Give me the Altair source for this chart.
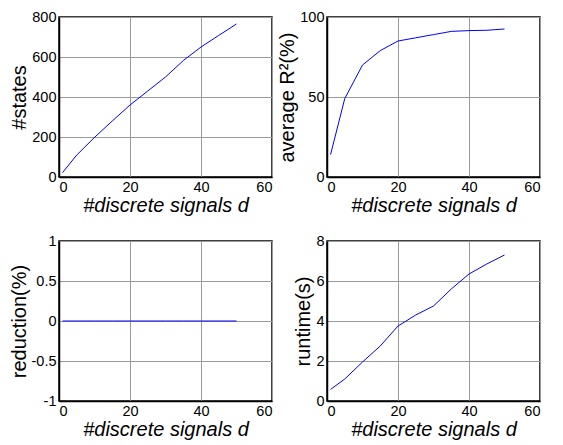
import altair as alt
import pandas as pd

d_vals = [1, 5, 10, 15, 20, 25, 30, 35, 40, 45, 50]
states = [22, 110, 198, 280, 360, 430, 500, 582, 650, 708, 765]
r2 = [14, 49, 70, 79, 85, 87, 89, 91, 91.5, 91.7, 92.5]
reduction = [0, 0, 0, 0, 0, 0, 0, 0, 0, 0, 0]
runtime = [0.58, 1.1, 1.95, 2.75, 3.75, 4.3, 4.75, 5.6, 6.35, 6.85, 7.3]

x_ticks = [0, 20, 40, 60]
FONT = "Liberation Sans"
W, H = 213, 160


def panel(values, ytitle, ydomain, yticks):
    df = pd.DataFrame({"d": d_vals, "v": values})
    return alt.Chart(df).mark_line(color="#0000ff", strokeWidth=1).encode(
        x=alt.X("d:Q", scale=alt.Scale(domain=[0, 60], nice=False),
                axis=alt.Axis(values=x_ticks, title="#discrete signals d",
                              titleFontStyle="italic", labelExpr="'' + datum.value")),
        y=alt.Y("v:Q", scale=alt.Scale(domain=ydomain, nice=False, zero=False),
                axis=alt.Axis(values=yticks, title=ytitle, labelExpr="'' + datum.value")),
    ).properties(width=W, height=H)


c1 = panel(states, "#states", [0, 800], [0, 200, 400, 600, 800])
c2 = panel(r2, "average R\u00b2(%)", [0, 100], [0, 50, 100])
c3 = panel(reduction, "reduction(%)", [-1, 1], [-1, -0.5, 0, 0.5, 1])
c4 = panel(runtime, "runtime(s)", [0, 8], [0, 2, 4, 6, 8])

chart = alt.concat(c1, c2, c3, c4, columns=2,
                   spacing=alt.RowColnumber(row=15, column=4)).properties(
    background="white", padding=0
).configure_axis(
    labelFont=FONT, titleFont=FONT, labelFontSize=14.5, titleFontSize=20,
    titleFontWeight="normal", labelColor="black", titleColor="black",
    domainColor="black", domainWidth=1.5, ticks=False, labelPadding=3,
    gridColor="#9a9a9a", gridWidth=1, gridOpacity=1, titlePadding=2,
).configure_view(stroke="black", strokeWidth=1.5)

chart.save("out.html", embed_options={"renderer": "svg", "actions": False})
